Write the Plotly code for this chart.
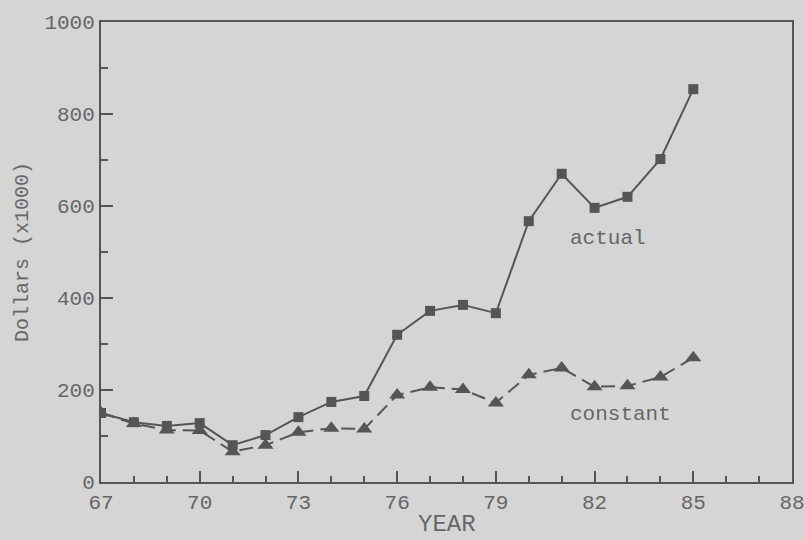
import plotly.graph_objects as go

years = list(range(67, 86))
actual = [150, 130, 122, 128, 80, 102, 141, 174, 187, 320, 372, 385, 367, 567, 670, 596, 620, 702, 854]
constant = [150, 127, 113, 112, 66, 80, 108, 117, 115, 189, 206, 201, 172, 233, 248, 207, 209, 228, 270]

x_ticks = [67, 70, 73, 76, 79, 82, 85, 88]
y_ticks = [0, 200, 400, 600, 800, 1000]

ink = "#555555"
txt = "#666666"
bg = "#d5d5d5"
font = "Liberation Mono"

fig = go.Figure()
fig.add_trace(go.Scatter(
    x=years, y=actual, mode="lines+markers", name="actual",
    line=dict(color=ink, width=2),
    marker=dict(symbol="square", size=10, color=ink),
))
fig.add_trace(go.Scatter(
    x=years, y=constant, mode="lines+markers", name="constant",
    line=dict(color=ink, width=2, dash="14px,7px"),
    marker=dict(symbol="triangle-up", size=14, color=ink),
))

fig.add_annotation(x=82.4, y=530, text="actual", showarrow=False,
                   font=dict(family=font, size=21, color=txt))
fig.add_annotation(x=82.8, y=146, text="constant", showarrow=False,
                   font=dict(family=font, size=21, color=txt))
# x-axis title placed just below the tick labels
fig.add_annotation(x=0.5, y=-0.093, xref="paper", yref="paper", text="YEAR",
                   showarrow=False, yanchor="middle",
                   font=dict(family=font, size=24, color=txt))

fig.update_layout(
    width=804, height=540,
    margin=dict(l=101, r=12, t=22, b=58, autoexpand=False),
    paper_bgcolor=bg, plot_bgcolor=bg,
    showlegend=False,
    font=dict(family=font, size=20, color=txt),
    xaxis=dict(
        range=[67, 88], tickvals=x_ticks, ticktext=[str(v) for v in x_ticks],
        automargin=False, ticklabeloverflow="allow",
        showgrid=False, zeroline=False, showline=True, linecolor=ink, linewidth=2,
        mirror=True, ticks="inside", ticklen=11, tickwidth=2, tickcolor=ink,
        minor=dict(ticks="inside", ticklen=6, tickwidth=2, tickcolor=ink, dtick=1, showgrid=False),
        tickfont=dict(family=font, size=21, color=txt),
    ),
    yaxis=dict(
        range=[0, 1000], tickvals=y_ticks, ticktext=[str(v) for v in y_ticks],
        automargin=False,
        showgrid=False, zeroline=False, showline=True, linecolor=ink, linewidth=2,
        mirror=True, ticks="inside", ticklen=12, tickwidth=2, tickcolor=ink,
        minor=dict(ticks="inside", ticklen=7, tickwidth=2, tickcolor=ink, dtick=100, showgrid=False),
        title=dict(text="Dollars (x1000)", font=dict(family=font, size=20, color=txt), standoff=10),
        tickfont=dict(family=font, size=21, color=txt),
    ),
)

fig.write_html(
    "out.html",
    config={"displayModeBar": False},
    post_script="document.body.style.margin='0';document.body.style.background='%s';" % bg,
)
